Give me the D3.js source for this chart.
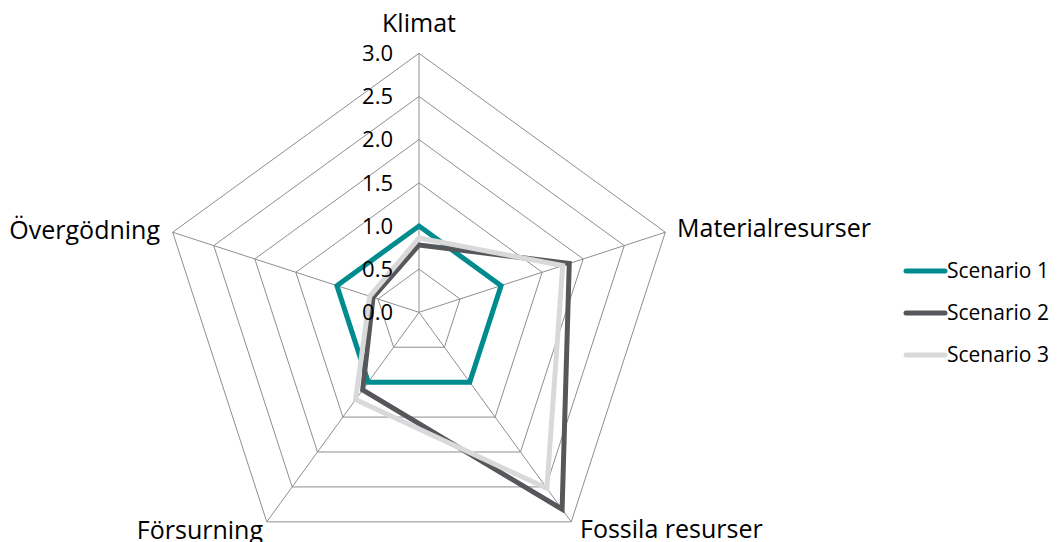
<!DOCTYPE html>
<html>
<head>
<meta charset="utf-8">
<script src="https://cdn.jsdelivr.net/npm/d3@7"></script>
<style>
  html, body { margin: 0; padding: 0; background: #fff; }
  svg { display: block; font-family: "Open Sans", Lato, sans-serif; }
</style>
</head>
<body>
<svg id="chart" width="1059" height="542"></svg>
<script>
// Impact categories (radar axes), clockwise from the top
const categories = ["Klimat", "Materialresurser", "Fossila resurser", "Försurning", "Övergödning"];

// Series values, one per category
const seriesNames = ["Scenario 1", "Scenario 2", "Scenario 3"];
const scenario1 = [1.0, 1.0, 1.0, 1.0, 1.0];
const scenario2 = [0.78, 1.83, 2.82, 1.11, 0.56];
const scenario3 = [0.86, 1.75, 2.52, 1.25, 0.60];

// Radial tick values
const tickValues = [0, 0.5, 1.0, 1.5, 2.0, 2.5, 3.0];

const colors = ["#008c8f", "#55575b", "#d9d9d9"];
const seriesValues = [scenario1, scenario2, scenario3];

const svg = d3.select("#chart");
const cx = 419, cy = 312.3, R = 259;

const r = d3.scaleLinear().domain([0, 3]).range([0, R]);
const angle = d3.scalePoint().domain(categories).range([0, 2 * Math.PI * (categories.length - 1) / categories.length]);

const g = svg.append("g").attr("transform", `translate(${cx},${cy})`);

const pt = (cat, v) => {
  const a = angle(cat);
  return [r(v) * Math.sin(a), -r(v) * Math.cos(a)];
};

// Concentric pentagon gridlines
tickValues.filter(t => t > 0).forEach(t => {
  g.append("path")
    .attr("d", d3.line()(categories.map(c => pt(c, t))) + "Z")
    .attr("fill", "none")
    .attr("stroke", "#8f8f8f")
    .attr("stroke-width", 1);
});

// Spokes
categories.forEach(c => {
  const [x, y] = pt(c, 3);
  g.append("line").attr("x1", 0).attr("y1", 0).attr("x2", x).attr("y2", y)
    .attr("stroke", "#8f8f8f").attr("stroke-width", 1);
});

// Series polygons
const radial = d3.lineRadial()
  .angle((d, i) => angle(categories[i]))
  .radius(d => r(d))
  .curve(d3.curveLinearClosed);

seriesValues.forEach((vals, i) => {
  g.append("path")
    .attr("d", radial(vals))
    .attr("fill", "none")
    .attr("stroke", colors[i])
    .attr("stroke-width", 5)
    .attr("stroke-linejoin", "miter");
});

// Radial tick labels along the top spoke
g.selectAll("text.tick").data(tickValues).enter().append("text")
  .attr("class", "tick")
  .attr("x", -26)
  .attr("y", d => -r(d))
  .attr("dy", "0.35em")
  .attr("text-anchor", "end")
  .attr("font-size", 22)
  .attr("fill", "#000")
  .text(d => d3.format(".1f")(d));

// Category labels
const labelPos = {
  "Klimat": { x: 0, y: -289, anchor: "middle" },
  "Materialresurser": { x: 258, y: -84, anchor: "start" },
  "Fossila resurser": { x: 161, y: 217, anchor: "start" },
  "Försurning": { x: -156, y: 218, anchor: "end" },
  "Övergödning": { x: -259, y: -82, anchor: "end" }
};
categories.forEach(c => {
  const p = labelPos[c];
  g.append("text")
    .attr("x", p.x).attr("y", p.y)
    .attr("dy", "0.35em")
    .attr("text-anchor", p.anchor)
    .attr("font-size", 25)
    .attr("fill", "#000")
    .text(c);
});

// Legend
const legend = svg.append("g").attr("transform", "translate(906,271)");
seriesNames.forEach((name, i) => {
  const row = legend.append("g").attr("transform", `translate(0,${i * 42})`);
  row.append("line").attr("x1", 0).attr("x2", 39).attr("y1", 0).attr("y2", 0)
    .attr("stroke", colors[i]).attr("stroke-width", 5).attr("stroke-linecap", "round");
  row.append("text").attr("x", 41).attr("y", 0).attr("dy", "0.35em")
    .attr("font-size", 21).attr("fill", "#000").text(name);
});
</script>
</body>
</html>
